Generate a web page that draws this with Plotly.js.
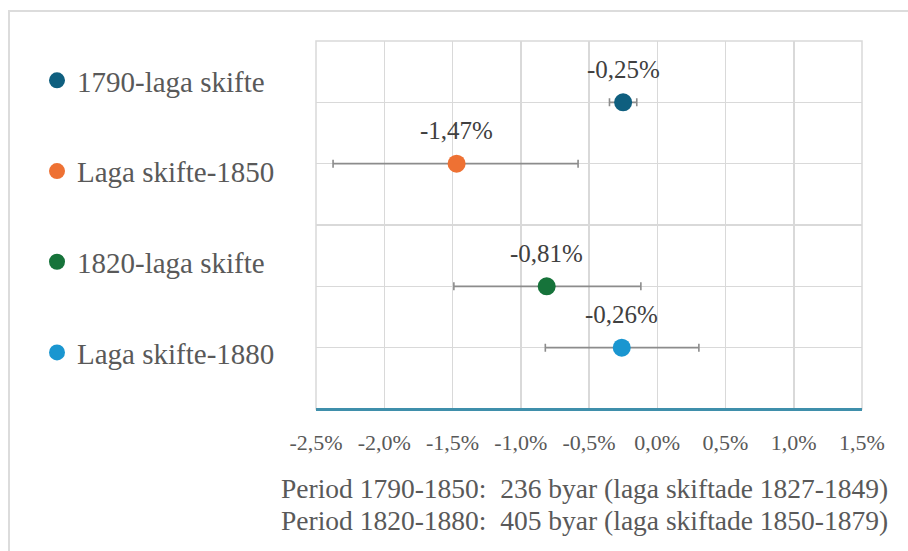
<!DOCTYPE html>
<html>
<head>
<meta charset="utf-8">
<script src="https://cdn.plot.ly/plotly-3.0.1.min.js"></script>
<style>
  html, body { margin: 0; padding: 0; background: #ffffff; }
  #wrap { position: relative; width: 908px; height: 551px; overflow: hidden; background: #ffffff; }
  #frame { position: absolute; left: 8px; top: 10px; width: 960px; height: 600px;
           border: 2px solid #dcdcdc; box-sizing: border-box; pointer-events: none; }
  #chart { position: absolute; left: 0; top: 0; width: 908px; height: 551px; }
</style>
</head>
<body>
<div id="wrap">
  <div id="chart"></div>
  <div id="frame"></div>
</div>
<script>
// ---- data ----
const seriesNames = ['1790-laga skifte', 'Laga skifte-1850', '1820-laga skifte', 'Laga skifte-1880'];
const changeValues = [-0.25, -1.47, -0.81, -0.26];     // % per year
const errorPlus    = [0.10, 0.89, 0.69, 0.565];
const errorMinus   = [0.10, 0.905, 0.68, 0.56];
const rowPositions = [5, 4, 2, 1];
const valueLabels  = ['-0,25%', '-1,47%', '-0,81%', '-0,26%'];
const colors       = ['#0f5f7f', '#ee7133', '#16733a', '#1a96d0'];
const xTickValues  = [-2.5, -2.0, -1.5, -1.0, -0.5, 0.0, 0.5, 1.0, 1.5];
const xTickLabels  = ['-2,5%', '-2,0%', '-1,5%', '-1,0%', '-0,5%', '0,0%', '0,5%', '1,0%', '1,5%'];
const noteLines    = ['Period 1790-1850:\u00a0 236 byar (laga skiftade 1827-1849)',
                      'Period 1820-1880:\u00a0 405 byar (laga skiftade 1850-1879)'];

const textColor = '#595959';
const font = 'Liberation Serif';

// plot area in pixels: left 316, right 862, top 41, bottom 409
const PL = 316, PW = 546, PT = 41, PH = 368;

const traces = seriesNames.map((name, i) => ({
  type: 'scatter',
  mode: 'markers',
  name: name,
  legendgroup: 'g' + i,
  x: [changeValues[i]],
  y: [rowPositions[i]],
  marker: { color: colors[i], size: 18 },
  error_x: {
    type: 'data', symmetric: false,
    array: [errorPlus[i]], arrayminus: [errorMinus[i]],
    color: '#8c8c8c', thickness: 1.6, width: 4
  },
  hoverinfo: 'skip'
}));

const annotations = seriesNames.map((name, i) => ({
  x: changeValues[i], y: rowPositions[i], xref: 'x', yref: 'y',
  text: valueLabels[i], showarrow: false, yshift: 33,
  font: { family: font, size: 25, color: '#404040' }
}));
noteLines.forEach((t, j) => annotations.push({
  x: (890 - PL) / PW, y: (PT + PH - (488 + j * 32)) / PH, xref: 'paper', yref: 'paper',
  xanchor: 'right', yanchor: 'middle', text: t, showarrow: false,
  font: { family: font, size: 27.5, color: textColor }
}));

const layout = {
  width: 908, height: 551,
  margin: { l: PL, r: 908 - PL - PW, t: PT, b: 551 - PT - PH, autoexpand: false },
  paper_bgcolor: 'rgba(0,0,0,0)', plot_bgcolor: 'rgba(0,0,0,0)',
  showlegend: true,
  legend: {
    x: (37 - PL) / PW, xanchor: 'left', y: (PT + PH - 55) / PH, yanchor: 'top',
    font: { family: font, size: 29, color: textColor },
    tracegroupgap: 50, itemsizing: 'trace', itemwidth: 30,
    bgcolor: 'rgba(0,0,0,0)', maxheight: 500
  },
  xaxis: {
    range: [-2.5, 1.5], tickvals: xTickValues, ticktext: xTickLabels,
    showgrid: true, gridcolor: '#d9d9d9', gridwidth: 1.5,
    zeroline: false, showline: false,
    ticks: 'outside', ticklen: 14, tickcolor: 'rgba(0,0,0,0)',
    tickfont: { family: font, size: 22, color: textColor },
    fixedrange: true
  },
  yaxis: {
    range: [0, 6], dtick: 1, showticklabels: false,
    showgrid: true, gridcolor: '#d9d9d9', gridwidth: 1.5,
    zeroline: true, zerolinecolor: '#3f8fab', zerolinewidth: 3,
    showline: false, fixedrange: true
  },
  shapes: [{
    type: 'rect', xref: 'paper', yref: 'paper', x0: 0, x1: 1, y0: 0, y1: 1,
    line: { color: '#d9d9d9', width: 1.5 }, layer: 'below'
  }],
  annotations: annotations
};

Plotly.newPlot('chart', traces, layout, { displayModeBar: false, staticPlot: true });
</script>
</body>
</html>
